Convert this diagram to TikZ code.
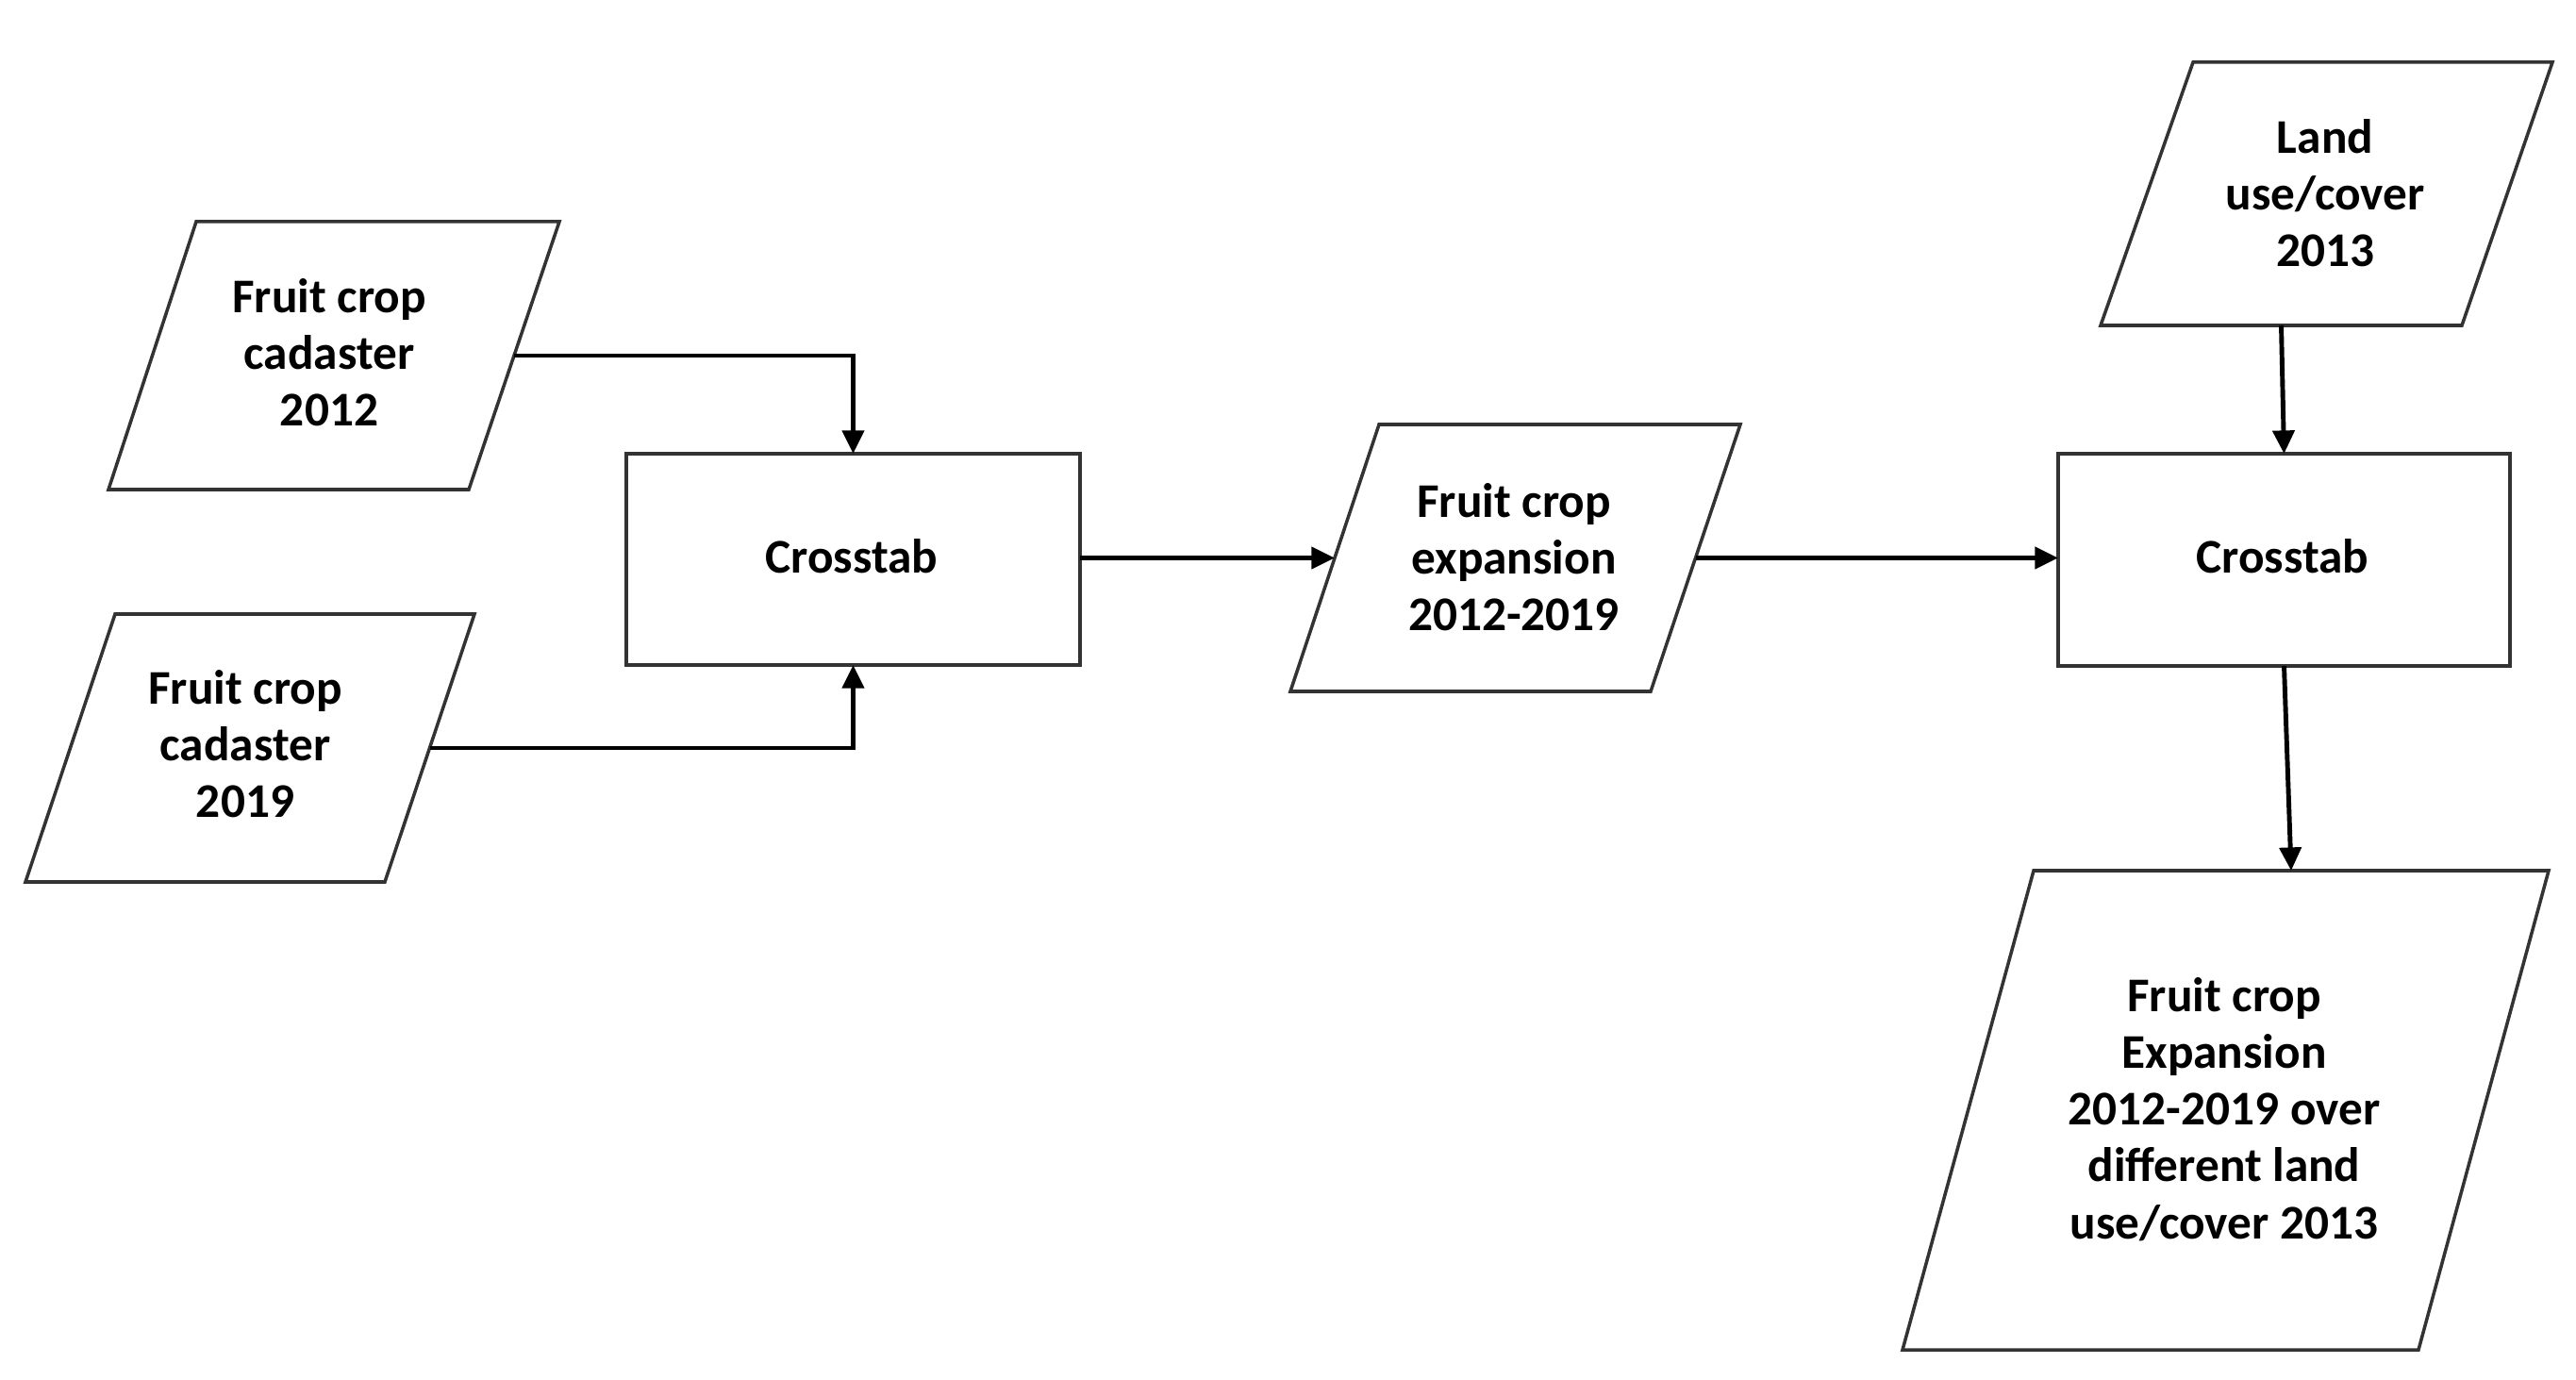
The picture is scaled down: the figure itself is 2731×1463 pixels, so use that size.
\documentclass[tikz,border=0pt]{standalone}
\usepackage{fontspec}
\setmainfont{Carlito}
\usetikzlibrary{arrows.meta,calc}
\tikzset{
  box/.style={draw=black!80, line width=1pt, rectangle, minimum width=48mm, minimum height=22.4mm, outer sep=0pt, fill=white},
  para/.style={draw=black!80, line width=1pt, line join=miter},
  txt/.style={align=center, font=\bfseries\fontsize{14.6}{17.1}\selectfont, inner sep=0pt},
  arr/.style={draw=black, line width=1.4pt, -{Triangle[length=7pt,width=6.5pt]}},
}
\begin{document}
\begin{tikzpicture}[x=0.1mm,y=-0.1mm]
\useasboundingbox (0,0) rectangle (2731,1463);
% parallelogram A
\coordinate (a-tl) at (208,235); \coordinate (a-tr) at (593,235);
\coordinate (a-br) at (497,519); \coordinate (a-bl) at (115,519);
\draw[para] (a-tl) -- (a-tr) -- (a-br) -- (a-bl) -- cycle;
\node[txt] (a) at (349,374) {Fruit crop\\cadaster\\2012};
\coordinate (a-out) at ($(a-br)!0.5!(a-tr)$);
% parallelogram B
\coordinate (b-tl) at (122,651); \coordinate (b-tr) at (503,651);
\coordinate (b-br) at (408,935); \coordinate (b-bl) at (27,935);
\draw[para] (b-tl) -- (b-tr) -- (b-br) -- (b-bl) -- cycle;
\node[txt] (b) at (260,789) {Fruit crop\\cadaster\\2019};
\coordinate (b-out) at ($(b-br)!0.5!(b-tr)$);
% crosstab 1
\node[box, minimum width=48.1mm, minimum height=22.4mm] (c1) at (904.5,593) {};
\node[txt] (c1t) at (903,590) {Crosstab};
% parallelogram D
\coordinate (d-tl) at (1462,450); \coordinate (d-tr) at (1845,450);
\coordinate (d-br) at (1750,733); \coordinate (d-bl) at (1368,733);
\draw[para] (d-tl) -- (d-tr) -- (d-br) -- (d-bl) -- cycle;
\node[txt] (d) at (1605,591) {Fruit crop\\expansion\\2012-2019};
\coordinate (d-in) at ($(d-bl)!0.5!(d-tl)$);
\coordinate (d-out) at ($(d-br)!0.5!(d-tr)$);
% crosstab 2
\node[box, minimum width=47.9mm, minimum height=22.5mm] (c2) at (2421.5,593.5) {};
\node[txt] (c2t) at (2420,590) {Crosstab};
% parallelogram E
\coordinate (e-tl) at (2325,66); \coordinate (e-tr) at (2706,66);
\coordinate (e-br) at (2610,345); \coordinate (e-bl) at (2227,345);
\draw[para] (e-tl) -- (e-tr) -- (e-br) -- (e-bl) -- cycle;
\node[txt] (e) at (2465,205) {Land\\use/cover\\2013};
\coordinate (e-out) at ($(e-bl)!0.5!(e-br)$);
% parallelogram F
\coordinate (f-tl) at (2156,923); \coordinate (f-tr) at (2702,923);
\coordinate (f-br) at (2564,1431); \coordinate (f-bl) at (2017,1431);
\draw[para] (f-tl) -- (f-tr) -- (f-br) -- (f-bl) -- cycle;
\node[txt] (f) at (2358,1176) {Fruit crop\\Expansion\\2012-2019 over\\different land\\use/cover 2013};
\coordinate (f-in) at ($(f-tl)!0.5!(f-tr)$);
% connectors
\draw[arr] (a-out) -| (c1.north);
\draw[arr] (b-out) -| (c1.south);
\draw[arr] (c1.east |- d-in) -- (d-in);
\draw[arr] (d-out) -- (c2.west |- d-out);
\draw[arr] (e-out) -- (c2.north);
\draw[arr] (c2.south) -- (f-in);
\end{tikzpicture}
\end{document}
